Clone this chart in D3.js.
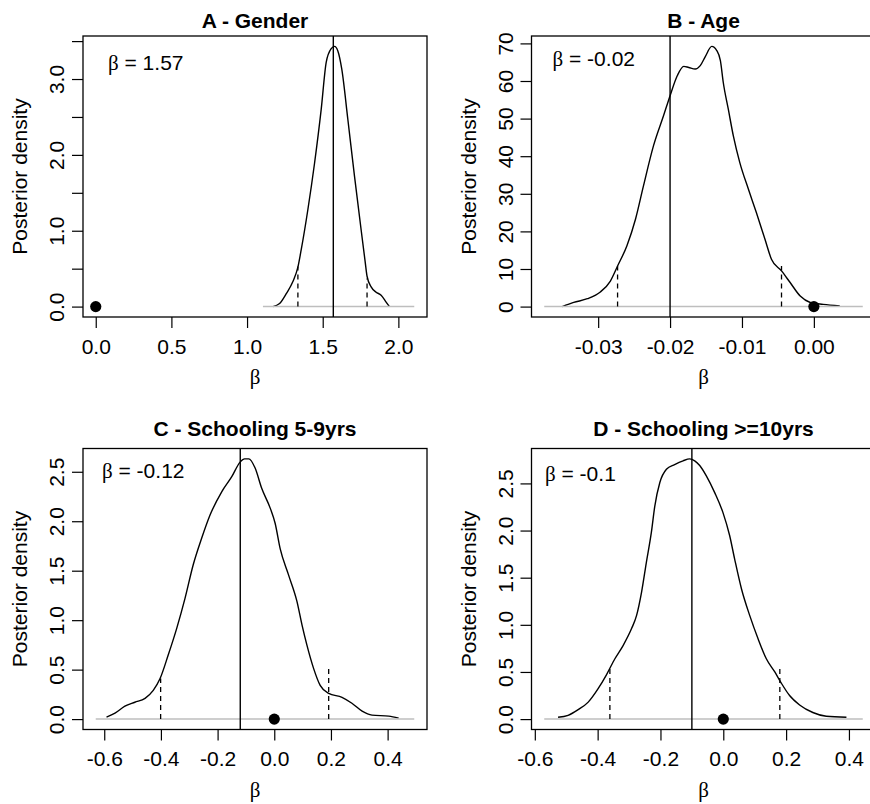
<!DOCTYPE html>
<html>
<head>
	<meta charset="utf-8">
	<style>
		body { margin: 0; background: #fff; }
		text { font-family: "Liberation Sans", Arial, Helvetica, sans-serif; }
	</style>
</head>
<body>

	<div id="graph"></div>

	<script src="https://cdnjs.cloudflare.com/ajax/libs/d3/7.8.5/d3.min.js"></script>

	<script>
		// panel titles and annotations
		const titles = ['A - Gender', 'B - Age', 'C - Schooling 5-9yrs', 'D - Schooling >=10yrs'];
		const betaText = ['1.57', '-0.02', '-0.12', '-0.1'];
		const betaMean = [1.57, -0.02, -0.12, -0.1];

		// credible interval bounds (dashed lines) and their heights
		const ciLow = [1.336, -0.0273, -0.401, -0.361];
		const ciHigh = [1.793, -0.0045, 0.192, 0.180];
		const ciLowHeight = [0.53, 10.8, 0.41, 0.54];
		const ciHighHeight = [0.37, 10.8, 0.52, 0.54];

		// x range covered by each density estimate (grey zero line)
		const densityRange = [[1.105, 2.105], [-0.0375, 0.0068], [-0.630, 0.494], [-0.570, 0.444]];

		// posterior densities
		const genderDensity = [
			[1.171, 0], [1.215, 0.04], [1.259, 0.17], [1.303, 0.33], [1.336, 0.52], [1.358, 0.75],
			[1.402, 1.28], [1.446, 1.89], [1.490, 2.60], [1.523, 3.22], [1.556, 3.40], [1.578, 3.43],
			[1.600, 3.37], [1.626, 3.13], [1.666, 2.47], [1.710, 1.72], [1.754, 1.01], [1.780, 0.60],
			[1.793, 0.40], [1.820, 0.26], [1.853, 0.19], [1.886, 0.15], [1.919, 0.06], [1.941, 0]
		];
		const ageDensity = [
			[-0.0350, 0], [-0.0334, 1.1], [-0.0315, 2.1], [-0.0297, 3.9], [-0.0283, 6.8], [-0.0273, 10.8],
			[-0.0260, 16.2], [-0.0248, 23.3], [-0.0237, 32.1], [-0.0223, 42.8], [-0.0209, 50.8],
			[-0.0200, 56.1], [-0.0190, 61.4], [-0.0181, 63.9], [-0.0174, 63.6], [-0.0165, 63.2],
			[-0.0158, 64.1], [-0.0151, 66.5], [-0.0142, 69.2], [-0.0135, 68.1], [-0.0130, 65.4],
			[-0.0126, 59.6], [-0.0119, 52.5], [-0.0112, 45.4], [-0.0103, 38.3], [-0.0091, 31.2],
			[-0.0080, 25.0], [-0.0068, 17.9], [-0.0059, 12.6], [-0.0045, 9.5], [-0.0033, 6.4],
			[-0.0019, 2.8], [-0.0005, 1.1], [0.0013, 0.6], [0.0036, 0.2]
		];
		const school59Density = [
			[-0.592, 0.02], [-0.562, 0.06], [-0.527, 0.13], [-0.492, 0.17], [-0.456, 0.21], [-0.427, 0.29],
			[-0.403, 0.41], [-0.374, 0.65], [-0.344, 0.92], [-0.315, 1.22], [-0.286, 1.56], [-0.256, 1.83],
			[-0.227, 2.06], [-0.185, 2.30], [-0.150, 2.45], [-0.120, 2.60], [-0.105, 2.63], [-0.090, 2.63],
			[-0.068, 2.54], [-0.044, 2.33], [-0.014, 2.13], [0.003, 1.98], [0.021, 1.72], [0.050, 1.46],
			[0.080, 1.19], [0.098, 0.95], [0.115, 0.75], [0.139, 0.51], [0.162, 0.34], [0.192, 0.26],
			[0.239, 0.22], [0.274, 0.16], [0.310, 0.08], [0.345, 0.04], [0.404, 0.03], [0.439, 0.01]
		];
		const school10Density = [
			[-0.526, 0.02], [-0.494, 0.04], [-0.462, 0.10], [-0.430, 0.18], [-0.399, 0.32], [-0.372, 0.47],
			[-0.345, 0.64], [-0.319, 0.78], [-0.292, 0.96], [-0.276, 1.10], [-0.260, 1.35], [-0.245, 1.66],
			[-0.229, 1.98], [-0.218, 2.26], [-0.202, 2.51], [-0.181, 2.65], [-0.155, 2.70], [-0.128, 2.74],
			[-0.107, 2.76], [-0.091, 2.74], [-0.075, 2.69], [-0.054, 2.58], [-0.027, 2.40], [-0.001, 2.19],
			[0.020, 1.95], [0.036, 1.70], [0.058, 1.38], [0.084, 1.10], [0.111, 0.85], [0.137, 0.64],
			[0.164, 0.50], [0.185, 0.38], [0.211, 0.25], [0.243, 0.15], [0.285, 0.07], [0.328, 0.03],
			[0.392, 0.02]
		];
		const densities = [genderDensity, ageDensity, school59Density, school10Density];

		// ticks and tick labels
		const xTicks = [
			[0, 0.5, 1, 1.5, 2],
			[-0.03, -0.02, -0.01, 0],
			[-0.6, -0.4, -0.2, 0, 0.2, 0.4],
			[-0.6, -0.4, -0.2, 0, 0.2, 0.4]
		];
		const xTickLabels = [
			['0.0', '0.5', '1.0', '1.5', '2.0'],
			['-0.03', '-0.02', '-0.01', '0.00'],
			['-0.6', '-0.4', '-0.2', '0.0', '0.2', '0.4'],
			['-0.6', '-0.4', '-0.2', '0.0', '0.2', '0.4']
		];
		const yTicks = [
			[0, 0.5, 1, 1.5, 2, 2.5, 3, 3.5],
			[0, 10, 20, 30, 40, 50, 60, 70],
			[0, 0.5, 1, 1.5, 2, 2.5],
			[0, 0.5, 1, 1.5, 2, 2.5]
		];
		const yTickLabels = [
			['0.0', '', '1.0', '', '2.0', '', '3.0', ''],
			['0', '10', '20', '30', '40', '50', '60', '70'],
			['0.0', '0.5', '1.0', '1.5', '2.0', '2.5'],
			['0.0', '0.5', '1.0', '1.5', '2.0', '2.5']
		];

		// layout
		const W = 870, H = 804;
		const boxW = 344, boxH = 281;
		const boxLeft = [83, 531.5, 83, 531.5];
		const boxTop = [36, 36, 448.5, 448.5];
		const titleY = [28, 28, 435.5, 435.5];
		const annot = [[25, 34], [21, 30], [19, 29.5], [13.5, 32]];
		const fontSize = 21;

		// R style 4% axis extension
		const extend = ([a, b]) => {
			const d = (b - a) * 0.04;
			return [a - d, b + d];
		};

		const svg = d3.select('#graph')
			.append('svg')
			.attr('width', W)
			.attr('height', H)
			.style('display', 'block');

		svg.append('rect').attr('width', W).attr('height', H).attr('fill', '#fff');

		const line = d3.line().curve(d3.curveMonotoneX);

		densities.forEach((dens, i) => {
			const left = boxLeft[i], top = boxTop[i];
			const xlim = [Math.min(0, densityRange[i][0]), Math.max(0, densityRange[i][1])];
			const ylim = [0, d3.max(dens, d => d[1])];

			const x = d3.scaleLinear().domain(extend(xlim)).range([left, left + boxW]);
			const y = d3.scaleLinear().domain(extend(ylim)).range([top + boxH, top]);

			const g = svg.append('g');

			// density curve
			g.append('path')
				.attr('d', line(dens.map(d => [x(d[0]), y(d[1])])))
				.attr('fill', 'none')
				.attr('stroke', '#000')
				.attr('stroke-width', 1.4);

			// grey zero line across density support
			g.append('line')
				.attr('x1', x(densityRange[i][0])).attr('x2', x(densityRange[i][1]))
				.attr('y1', y(0)).attr('y2', y(0))
				.attr('stroke', '#bebebe')
				.attr('stroke-width', 1.5);

			// interval bounds
			[[ciLow[i], ciLowHeight[i]], [ciHigh[i], ciHighHeight[i]]].forEach(([cx, ch]) => {
				g.append('line')
					.attr('x1', x(cx)).attr('x2', x(cx))
					.attr('y1', y(0)).attr('y2', y(ch))
					.attr('stroke', '#000')
					.attr('stroke-width', 1.3)
					.attr('stroke-dasharray', '5,4');
			});

			// posterior mean
			g.append('line')
				.attr('x1', x(betaMean[i])).attr('x2', x(betaMean[i]))
				.attr('y1', top).attr('y2', top + boxH)
				.attr('stroke', '#000')
				.attr('stroke-width', 1.4);

			// zero point
			g.append('circle')
				.attr('cx', x(0)).attr('cy', y(0))
				.attr('r', 5.6)
				.attr('fill', '#000');

			// box
			g.append('rect')
				.attr('x', left).attr('y', top)
				.attr('width', boxW).attr('height', boxH)
				.attr('fill', 'none')
				.attr('stroke', '#000')
				.attr('stroke-width', 1.3);

			// axes
			const xAxis = d3.axisBottom(x)
				.tickValues(xTicks[i])
				.tickFormat((d, k) => xTickLabels[i][k])
				.tickSize(11)
				.tickSizeOuter(0);

			const gx = g.append('g')
				.attr('transform', `translate(0, ${top + boxH})`)
				.call(xAxis);
			gx.select('.domain').remove();
			gx.selectAll('line').attr('stroke-width', 1.2);
			gx.selectAll('text')
				.attr('y', 36.5).attr('dy', 0)
				.attr('font-size', fontSize)
				.attr('font-family', '"Liberation Sans", Arial, sans-serif')
				.attr('fill', '#000');

			const yAxis = d3.axisLeft(y)
				.tickValues(yTicks[i])
				.tickFormat((d, k) => yTickLabels[i][k])
				.tickSize(11)
				.tickSizeOuter(0);

			const gy = g.append('g')
				.attr('transform', `translate(${left}, 0)`)
				.call(yAxis);
			gy.select('.domain').remove();
			gy.selectAll('line').attr('stroke-width', 1.2);
			gy.selectAll('text')
				.attr('x', 0).attr('dy', 0)
				.attr('text-anchor', 'middle')
				.attr('transform', 'translate(-19, 0) rotate(-90)')
				.attr('font-size', fontSize)
				.attr('font-family', '"Liberation Sans", Arial, sans-serif')
				.attr('fill', '#000');

			// title
			g.append('text')
				.attr('x', left + boxW / 2)
				.attr('y', titleY[i])
				.attr('text-anchor', 'middle')
				.attr('font-weight', 'bold')
				.attr('font-size', fontSize)
				.text(titles[i]);

			// axis labels
			g.append('text')
				.attr('transform', `translate(${left - 56}, ${top + boxH / 2}) rotate(-90)`)
				.attr('text-anchor', 'middle')
				.attr('font-size', fontSize)
				.text('Posterior density');

			g.append('text')
				.attr('x', left + boxW / 2)
				.attr('y', top + boxH + 67)
				.attr('text-anchor', 'middle')
				.attr('font-size', fontSize)
				.style('font-family', '"Liberation Serif", "DejaVu Serif", serif')
				.text('β');

			// beta annotation
			const t = g.append('text')
				.attr('x', left + annot[i][0])
				.attr('y', top + annot[i][1])
				.attr('font-size', fontSize);
			t.append('tspan')
				.style('font-family', '"Liberation Serif", "DejaVu Serif", serif')
				.text('β');
			t.append('tspan')
				.text(' = ' + betaText[i]);
		});
	</script>

</body>
</html>
